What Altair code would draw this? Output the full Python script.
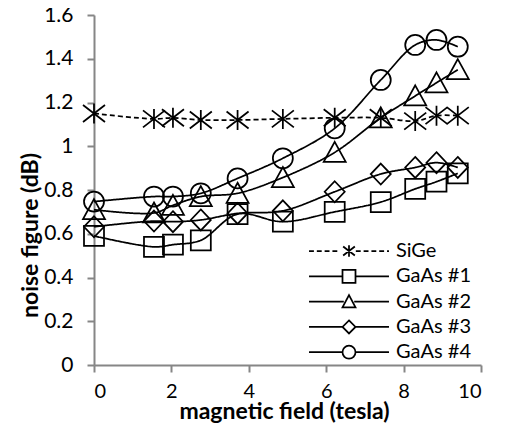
import altair as alt
import pandas as pd

# ---- data ----
field = [0, 1.55, 2.04, 2.76, 3.71, 4.88, 6.22, 7.41, 8.3, 8.85, 9.4]
sige = [1.15, 1.125, 1.13, 1.12, 1.12, 1.125, 1.13, 1.13, 1.115, 1.14, 1.14]
gaas1 = [0.59, 0.54, 0.55, 0.57, 0.69, 0.655, 0.70, 0.745, 0.805, 0.838, 0.876]
gaas2 = [0.71, 0.695, 0.73, 0.77, 0.785, 0.857, 0.972, 1.13, 1.23, 1.29, 1.35]
gaas3 = [0.632, 0.658, 0.655, 0.663, 0.693, 0.705, 0.792, 0.873, 0.903, 0.925, 0.903]
gaas4 = [0.747, 0.77, 0.77, 0.785, 0.853, 0.945, 1.082, 1.303, 1.463, 1.486, 1.455]
series_names = ["SiGe", "GaAs #1", "GaAs #2", "GaAs #3", "GaAs #4"]
x_ticks = [0, 2, 4, 6, 8, 10]
y_ticks = [0, 0.2, 0.4, 0.6, 0.8, 1.0, 1.2, 1.4, 1.6]

values = [sige, gaas1, gaas2, gaas3, gaas4]
rows = []
for name, vals in zip(series_names, values):
    for xv, yv in zip(field, vals):
        rows.append({"field": xv, "nf": yv, "series": name})
df = pd.DataFrame(rows)

# ---- marker shapes (unit paths) ----
asterisk = "M-1.1,-0.85L1.1,0.85M-1.1,0.85L1.1,-0.85M0,-1L0,1"
square = "M-1,-1L1,-1L1,1L-1,1Z"
triangle = "M0,-1.05L1.1,0.95L-1.1,0.95Z"
diamond = "M0,-1.05L1,0L0,1.05L-1,0Z"
circle = "M1,0A1,1,0,1,1,-1,0A1,1,0,1,1,1,0Z"
marker_paths = [asterisk, square, triangle, diamond, circle]

# legend symbols: line + smaller marker, in units of sqrt(size)/2 = 6.5px
HALF = 6.15
def solid_line(gap):
    return f"M{-HALF},0L{-gap},0M{gap},0L{HALF},0"

def dashed_line():
    dash, space = 0.75, 0.45
    parts = []
    x = -HALF
    while x < HALF:
        x2 = min(x + dash, HALF)
        if not (x2 > -0.6 and x < 0.6):
            parts.append(f"M{x:.2f},0L{x2:.2f},0")
        x = x2 + space
    return "".join(parts)

legend_paths = [
    dashed_line() + "M-0.9,-0.7L0.9,0.7M-0.9,0.7L0.9,-0.7M0,-0.9L0,0.9",
    solid_line(1) + square,
    solid_line(0.8) + "M0,-1L1,0.9L-1,0.9Z",
    solid_line(1) + "M0,-1L1,0L0,1L-1,0Z",
    solid_line(1) + circle,
]

font = "Lato"
axis_gray = "#868686"

base = alt.Chart(df).encode(
    x=alt.X(
        "field:Q",
        scale=alt.Scale(domain=[0, 10], nice=False),
        axis=alt.Axis(
            values=x_ticks,
            title="magnetic field (tesla)",
            titleX=190,
            titleY=53,
            titleBaseline="alphabetic",
            titleAlign="center",
            titleFontSize=23,
        ),
    ),
    y=alt.Y(
        "nf:Q",
        scale=alt.Scale(domain=[0, 1.6], nice=False),
        axis=alt.Axis(
            values=y_ticks,
            format="~g",
            title="noise figure (dB)",
            titleX=-64,
            titleY=220,
            titleBaseline="middle",
            titleAlign="center",
            titleAngle=270,
            titleFontSize=23,
        ),
    ),
)

lines = base.mark_line(interpolate="catmull-rom", color="black", strokeWidth=1.75).encode(
    strokeDash=alt.StrokeDash(
        "series:N",
        scale=alt.Scale(domain=series_names, range=[[5, 3], [1, 0], [1, 0], [1, 0], [1, 0]]),
        legend=None,
    ),
    detail="series:N",
)

points = base.mark_point(filled=False, color="black", strokeWidth=1.75, size=400, opacity=1).encode(
    shape=alt.Shape(
        "series:N",
        scale=alt.Scale(domain=series_names, range=marker_paths),
        legend=None,
    )
)

legend_layer = base.mark_point(filled=False, color="black", opacity=0).encode(
    shape=alt.Shape(
        "series:N",
        scale=alt.Scale(domain=series_names, range=legend_paths),
        legend=alt.Legend(
            title=None,
            orient="none",
            legendX=245,
            legendY=226,
            padding=0,
            symbolSize=169,
            symbolStrokeWidth=1.75,
            symbolStrokeColor="black",
            symbolFillColor="transparent",
            symbolOpacity=1,
            labelOffset=37,
            labelFontSize=20,
            labelFont=font,
            labelColor="black",
            rowPadding=5.3,
        ),
    )
)

chart = (
    alt.layer(lines, points, legend_layer)
    .resolve_scale(shape="independent")
    .properties(
        width=387,
        height=350,
        autosize=alt.AutoSizeParams(type="none"),
        padding={"left": 86, "top": 7, "right": 22, "bottom": 58},
    )
    .configure_view(stroke=None)
    .configure_axis(
        grid=False,
        domainColor=axis_gray,
        domainWidth=2,
        tickColor=axis_gray,
        tickWidth=2,
        tickSize=7,
        labelFont=font,
        labelFontSize=21,
        labelColor="black",
        titleFont=font,
        titleFontWeight="bold",
        titleColor="black",
    )
    .configure_axisX(labelPadding=9, labelFontSize=20)
    .configure_axisY(labelPadding=14)
)

chart.save("out.html", embed_options={"renderer": "svg", "actions": False})
